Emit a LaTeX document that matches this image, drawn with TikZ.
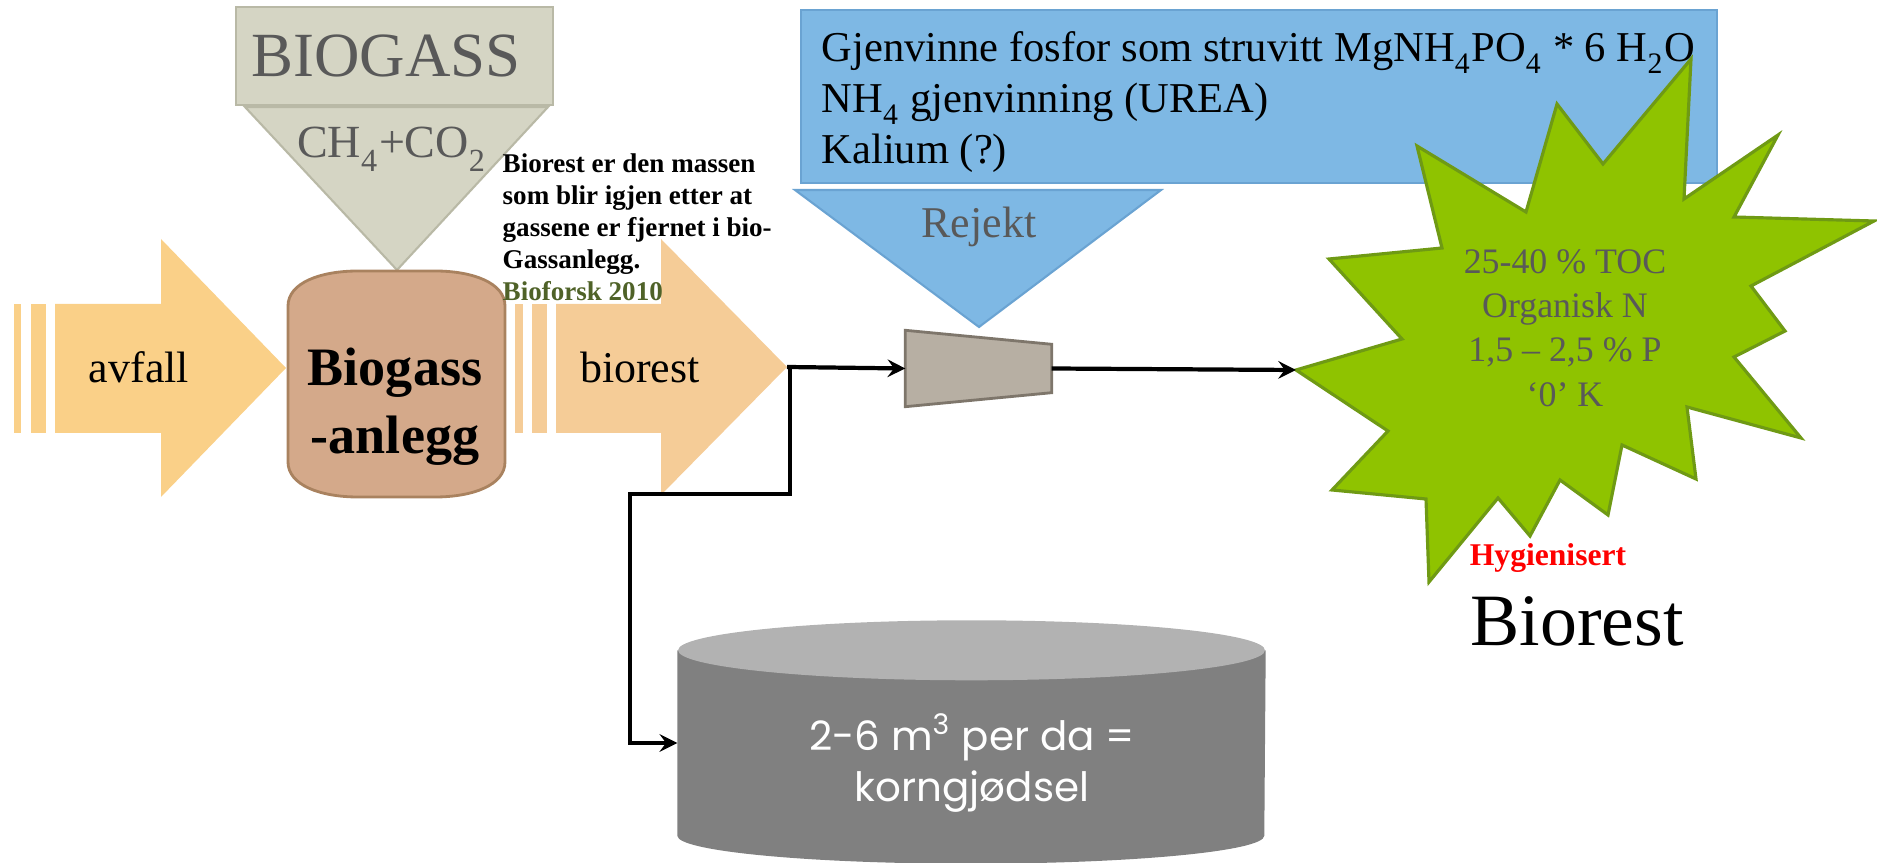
\documentclass[tikz,border=0pt]{standalone}
\usepackage{fontspec}
\usepackage{tikz}
\setmainfont{Liberation Serif}
\newfontfamily\gothicfont{Poppins}
\newcommand{\chemsub}[1]{\raisebox{-0.14em}{\textsubscript{#1}}}
\definecolor{biogassgrey}{HTML}{D5D5C4}
\definecolor{biogassedge}{HTML}{B9B9A6}
\definecolor{rejektblue}{HTML}{7EB8E4}
\definecolor{blueedge}{HTML}{6AA3D2}
\definecolor{avfallyellow}{HTML}{FAD088}
\definecolor{biorestpeach}{HTML}{F5CC97}
\definecolor{plantbrown}{HTML}{D4A98A}
\definecolor{plantedge}{HTML}{A9825F}
\definecolor{filtergrey}{HTML}{B7AFA3}
\definecolor{filteredge}{HTML}{7E766B}
\definecolor{stargreen}{HTML}{8FC300}
\definecolor{starborder}{HTML}{6F9A14}
\definecolor{tanktop}{HTML}{B2B2B2}
\definecolor{tankbody}{HTML}{808080}
\definecolor{labelgrey}{HTML}{595959}
\definecolor{bioforskgreen}{HTML}{4F6228}
\usetikzlibrary{shapes.geometric, arrows}
\tikzstyle{greyblock} = [fill=biogassgrey, draw=biogassedge, line width=0.6pt]
\tikzstyle{blueblock} = [fill=rejektblue, draw=blueedge, line width=0.6pt]
\tikzstyle{yellowarrow} = [fill=avfallyellow]
\tikzstyle{peacharrow} = [fill=biorestpeach]
\tikzstyle{plantblock} = [fill=plantbrown, draw=plantedge, line width=0.8pt]
\tikzstyle{filterblock} = [fill=filtergrey, draw=filteredge, line width=0.8pt]
\tikzstyle{starblock} = [fill=stargreen, draw=starborder, line width=0.9pt]
\tikzstyle{arrowlabel} = [anchor=base, inner sep=0pt, font=\fontsize{12.5}{15}\selectfont]
\tikzstyle{greylabel} = [anchor=base, inner sep=0pt, text=labelgrey]
\tikzstyle{arrow} = [line width=1.2pt,->,>=stealth]

\begin{document}
\begin{tikzpicture}[x=0.1mm, y=0.1mm]
	\useasboundingbox (0,0) rectangle (1877,-863);

	\filldraw [greyblock] (236,-7) rectangle (553,-105);
	\filldraw [greyblock] (245,-107) -- (548,-107) -- (397,-270) -- cycle;
	\node (Biogass) [greylabel, font=\fontsize{17.9}{21}\selectfont] at (386,-77) {BIOGASS};
	\node (Gas) [greylabel, font=\fontsize{13.1}{15}\selectfont] at (392,-158) {CH\chemsub{4}+CO\chemsub{2}};

	\filldraw [blueblock] (801,-10) rectangle (1717,-183);
	\filldraw [blueblock] (795,-190) -- (1161,-190) -- (979,-327) -- cycle;
	\node (Recover) [anchor=west, inner sep=0pt, align=left, font=\fontsize{12.1}{14.5}\selectfont] at (821,-102) {Gjenvinne fosfor som struvitt MgNH\chemsub{4}PO\chemsub{4} * 6 H\chemsub{2}O\\NH\chemsub{4} gjenvinning (UREA)\\Kalium (?)};
	\node (Rejekt) [greylabel, font=\fontsize{12.5}{15}\selectfont] at (979,-238) {Rejekt};

	\fill [avfallyellow] (14,-304) rectangle (21,-433);
	\fill [avfallyellow] (31,-304) rectangle (46,-433);
	\fill [yellowarrow] (55,-304) -- (161,-304) -- (161,-239) -- (286,-368) -- (161,-497) -- (161,-433) -- (55,-433) -- cycle;
	\node (Avfall) [arrowlabel] at (139,-383) {avfall};

	\filldraw [plantblock] (288,-306) .. controls (288,-283) and (320,-271) .. (358,-271) -- (435,-271) .. controls (473,-271) and (505,-283) .. (505,-306) -- (505,-462) .. controls (505,-485) and (473,-497) .. (435,-497) -- (358,-497) .. controls (320,-497) and (288,-485) .. (288,-462) -- cycle;
	\node (Plant) [inner sep=0pt, align=center, font=\bfseries\fontsize{15.4}{19.3}\selectfont] at (395,-407) {Biogass\\-anlegg};

	\fill [biorestpeach] (515,-304) rectangle (523,-433);
	\fill [biorestpeach] (532,-304) rectangle (547,-433);
	\fill [peacharrow] (556,-304) -- (661,-304) -- (661,-239) -- (787,-367) -- (661,-495) -- (661,-433) -- (556,-433) -- cycle;
	\node (Biorest) [arrowlabel] at (640,-383) {biorest};
	\coordinate (BiorestTip) at (787,-367);

	\node (Note) [anchor=west, inner sep=0pt, align=left, font=\bfseries\fontsize{7.7}{9.1}\selectfont] at (502,-227) {Biorest er den massen\\som blir igjen etter at\\gassene er fjernet i bio-\\Gassanlegg.\\\textcolor{bioforskgreen}{Bioforsk 2010}};

	\node (Filter) [inner sep=0pt, minimum width=14.5mm, minimum height=7.5mm] at (978.5,-368.5) {};
	\filldraw [filterblock] (Filter.north west) -- ([yshift=-1.4mm]Filter.north east) -- ([yshift=1.4mm]Filter.south east) -- (Filter.south west) -- cycle;

	\filldraw [starblock] (1296,-370) -- (1402,-339) -- (1329,-259) -- (1442,-248) -- (1417,-146) -- (1526,-212) -- (1557,-104) -- (1603,-164) -- (1691,-59) -- (1684,-199) -- (1778,-135) -- (1734,-217) -- (1874,-221) -- (1751,-286) -- (1785,-331) -- (1734,-357) -- (1801,-438) -- (1687,-407) -- (1696,-479) -- (1622,-445) -- (1608,-515) -- (1560,-480) -- (1530,-536) -- (1498,-498) -- (1429,-582) -- (1426,-499) -- (1332,-490) -- (1388,-431) -- cycle;
	\coordinate (StarTip) at (1296,-370);
	\node (Nutrients) [inner sep=0pt, align=center, text=labelgrey, font=\fontsize{10.2}{12.6}\selectfont] at (1565,-328) {25-40 \% TOC\\Organisk N\\1,5 – 2,5 \% P\\‘0’ K};
	\node (Hygiene) [anchor=base, inner sep=0pt, text=red, font=\bfseries\fontsize{9}{11}\selectfont] at (1548,-566) {Hygienisert};
	\node (Digestate) [anchor=base, inner sep=0pt, font=\fontsize{21}{25}\selectfont] at (1577,-646) {Biorest};

	\node (Tank) [inner sep=0pt, minimum width=58.7mm, minimum height=18.4mm] at (971.5,-743) {};
	\fill [tankbody] (Tank.north west) -- (Tank.south west) arc [start angle=180, end angle=360, x radius=29.35mm, y radius=2.8mm] -- (Tank.north east) -- cycle;
	\fill [tanktop] (Tank.north) ellipse [x radius=29.35mm, y radius=3mm];
	\node (TankText) [inner sep=0pt, align=center, text=white, font=\gothicfont\fontsize{11.5}{14.5}\selectfont] at (972,-763) {2-6 m\textsuperscript{3} per da =\\korngjødsel};

	\draw [arrow] (BiorestTip) -- (Filter.west);
	\draw [arrow] (Filter.east) -- (StarTip);
	\draw [arrow] (BiorestTip) -- ++(3,0) |- (630,-494) |- (Tank.west);
\end{tikzpicture}
\end{document}
